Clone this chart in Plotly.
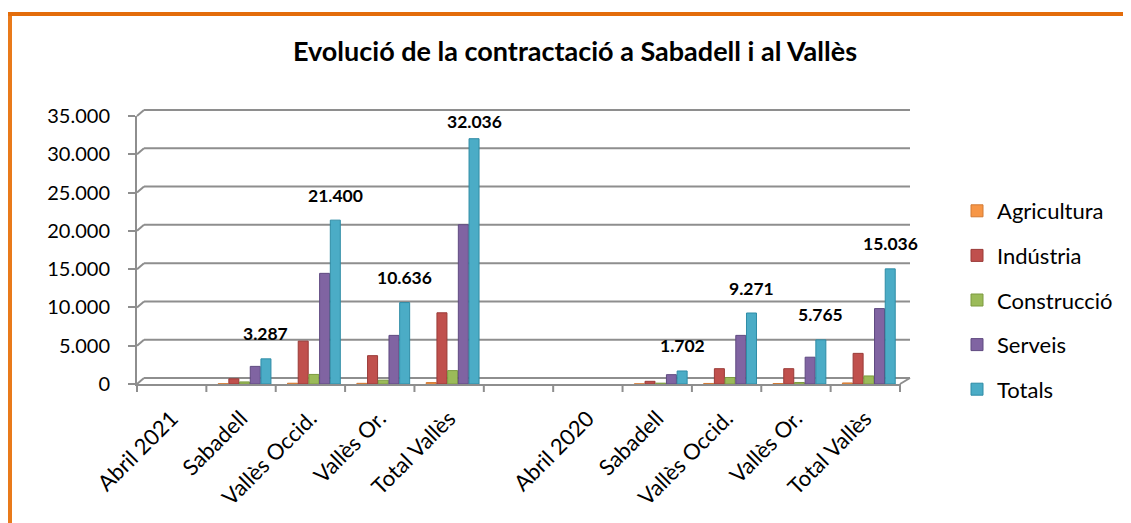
import plotly.graph_objects as go

categories = ["Abril 2021", "Sabadell", "Vallès Occid.", "Vallès Or.", "Total Vallès", "",
              "Abril 2020", "Sabadell", "Vallès Occid.", "Vallès Or.", "Total Vallès"]
agricultura = [None, 37, 100, 86, 186, None, None, 22, 71, 65, 136]
industria = [None, 680, 5600, 3700, 9300, None, None, 350, 2000, 2000, 4000]
construccio = [None, 270, 1250, 500, 1750, None, None, 110, 850, 200, 1050]
serveis = [None, 2300, 14450, 6350, 20800, None, None, 1220, 6350, 3500, 9850]
totals = [None, 3287, 21400, 10636, 32036, None, None, 1702, 9271, 5765, 15036]

series_names = ["Agricultura", "Indústria", "Construcció", "Serveis", "Totals"]
series_values = [agricultura, industria, construccio, serveis, totals]
colors = ["#F79646", "#C0504D", "#9BBB59", "#8064A2", "#4BACC6"]
edge_colors = ["#D27A34", "#9A3A37", "#7C9A40", "#5F4A80", "#2F8CA6"]

y_ticks = [0, 5000, 10000, 15000, 20000, 25000, 30000, 35000]

# page body margin offset (px)
O = 8
W, H = 1131 - O, 523 - O
# layout positions expressed in window pixels
L, R, T, B = 137, 900, 116, 384
FONT = "Lato"
GREY = "#8E8E8E"

x = list(range(len(categories)))
n = len(series_names)
nc = len(categories)

pw, ph = R - L, B - T
cat_px = pw / nc
BAR_W = 10 / cat_px
SLOT = 10.7 / cat_px
SHIFT = 3.5 / cat_px

fig = go.Figure()
for k, (name, vals, c, ec) in enumerate(zip(series_names, series_values, colors, edge_colors)):
    fig.add_trace(go.Bar(
        x=x, y=vals, name=name, legendgroup=name,
        width=BAR_W, offset=SHIFT + (k - (n - 1) / 2) * SLOT - BAR_W / 2,
        marker=dict(color=c, line=dict(color=ec, width=1)),
        hoverinfo="skip",
    ))

def px_x(px):
    return (px - L) / pw
def px_y(py):
    return (B - py) / ph

shapes = []
dx_back, dy_back = 7, 6
back_right = 910
ymax = y_ticks[-1]
for v in y_ticks:
    yf = v / ymax
    yb = yf + dy_back / ph
    shapes.append(dict(type="line", xref="paper", yref="paper", x0=0, y0=yf,
                       x1=dx_back / pw, y1=yb, line=dict(color=GREY, width=2), layer="below"))
    shapes.append(dict(type="line", xref="paper", yref="paper", x0=dx_back / pw, y0=yb,
                       x1=px_x(back_right), y1=yb, line=dict(color=GREY, width=2), layer="below"))
shapes.append(dict(type="line", xref="paper", yref="paper", x0=1, y0=0,
                   x1=px_x(back_right), y1=dy_back / ph, line=dict(color=GREY, width=2), layer="below"))
for b in range(nc + 1):
    xp = b / nc
    shapes.append(dict(type="line", xref="paper", yref="paper", x0=xp, y0=0,
                       x1=xp, y1=-8 / ph, line=dict(color=GREY, width=2)))
# orange frame
shapes.append(dict(type="line", xref="paper", yref="paper", x0=px_x(9), y0=px_y(600),
                   x1=px_x(9), y1=px_y(14), line=dict(color="#E97A1A", width=6)))
shapes.append(dict(type="line", xref="paper", yref="paper", x0=px_x(6), y0=px_y(14),
                   x1=px_x(1200), y1=px_y(14), line=dict(color="#E36C0A", width=4)))

# data labels on Totals, kept inside the chart top
tot_off = SHIFT + (n - 1) / 2 * SLOT
LABEL_TOP_PX = 121
annotations = []
for i, v in enumerate(totals):
    if v is None:
        continue
    top_px = B - v / ymax * ph
    label_px = max(top_px - 25, LABEL_TOP_PX)
    annotations.append(dict(x=i + tot_off, y=v, xref="x", yref="y",
                            text=f"{v:,}".replace(",", "."), showarrow=False,
                            yanchor="middle", yshift=top_px - label_px,
                            font=dict(family=FONT, size=17.5, color="black", weight="bold")))

fig.update_layout(
    width=W, height=H,
    margin=dict(l=L - O, r=(W + O) - R, t=T - O, b=(H + O) - B, pad=0, autoexpand=False),
    paper_bgcolor="white", plot_bgcolor="white",
    separators=",.",
    barmode="group",
    font=dict(family=FONT, color="black"),
    title=dict(text="<b>Evolució de la contractació a Sabadell i al Vallès</b>",
               x=(575 - O) / W, xref="container", xanchor="center",
               y=1 - (52 - O) / H, yref="container", yanchor="middle",
               font=dict(family=FONT, size=27, color="black")),
    xaxis=dict(range=[-0.5, nc - 0.5], tickmode="array", tickvals=x, ticktext=categories,
               tickangle=-45, showgrid=False, zeroline=False, showline=True,
               linecolor=GREY, linewidth=2, ticks="", tickfont=dict(size=22, family=FONT),
               ticklabelstandoff=11, ticklabelshift=0, fixedrange=True, automargin=False),
    yaxis=dict(range=[0, ymax], tickvals=y_ticks, tickformat=",d", showgrid=False,
               zeroline=False, showline=True, linecolor=GREY, linewidth=2,
               ticks="outside", ticklen=7, tickwidth=2, tickcolor=GREY,
               tickfont=dict(size=20, family=FONT), ticklabelstandoff=14, fixedrange=True,
               automargin=False),
    legend=dict(x=px_x(957), xanchor="left", y=px_y(190), yanchor="top",
                font=dict(size=22, family=FONT), tracegroupgap=13,
                itemclick=False, itemdoubleclick=False),
    shapes=shapes, annotations=annotations,
    showlegend=True,
)

fig.write_html("out.html")
